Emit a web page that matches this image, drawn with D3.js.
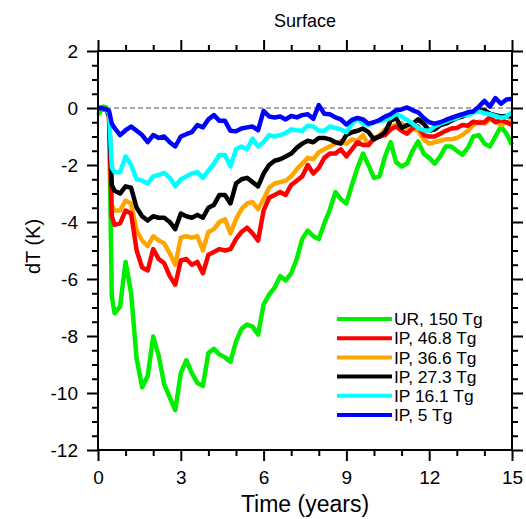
<!DOCTYPE html>
<html>
<head>
<meta charset="utf-8">
<script src="https://cdn.jsdelivr.net/npm/d3@7"></script>
<style>
  body { margin: 0; background: #fff; }
  text { font-family: "Liberation Sans", Arial, sans-serif; fill: #000; }
</style>
</head>
<body>
<div class="visHolder"></div>
<script>
// time axis (years)
var times = [0, 0.1, 0.2, 0.3, 0.4, 0.5, 0.6, 0.8,
  1, 1.2, 1.4, 1.6, 1.8, 2, 2.2, 2.4, 2.6, 2.8, 3, 3.2, 3.4, 3.6, 3.8,
  4, 4.2, 4.4, 4.6, 4.8, 5, 5.2, 5.4, 5.6, 5.8, 6, 6.2, 6.4, 6.6, 6.8,
  7, 7.2, 7.4, 7.6, 7.8, 8, 8.2, 8.4, 8.6, 8.8, 9, 9.2, 9.4, 9.6, 9.8,
  10, 10.2, 10.4, 10.6, 10.8, 11, 11.2, 11.4, 11.6, 11.8, 12, 12.2, 12.4, 12.6, 12.8,
  13, 13.2, 13.4, 13.6, 13.8, 14, 14.2, 14.4, 14.6, 14.8, 15];

// dT (K) per experiment
var ur150 = [-0.25, -0.1, 0.05, 0.02, -0.3, -6.6, -7.2, -6.97,
  -5.4, -6.5, -8.8, -9.8, -9.4,
  -8.02, -8.7, -9.7, -10.15, -10.6,
  -9.3, -8.85, -9.3, -9.65, -9.75,
  -8.6, -8.45, -8.65, -8.75, -8.9,
  -8.2, -7.75, -7.6, -7.67, -7.95,
  -6.9, -6.55, -6.3, -5.9, -6.05,
  -5.8, -5.3, -4.6, -4.3, -4.5,
  -4.6, -4.05, -3.57, -2.95, -3.2,
  -3.35, -2.7, -2.1, -1.6, -2.0,
  -2.45, -2.4, -1.7, -1.2, -1.9,
  -2.05, -1.95, -1.5, -1.17, -1.6,
  -1.75, -1.95, -1.7, -1.35, -1.35,
  -1.5, -1.64, -1.4, -1.0, -0.95,
  -1.25, -1.35, -1.0, -0.65, -0.9,
  -1.29];

var ip468 = [0, 0, -0.05, -0.05, -0.3, -3.8, -4.1, -4.05,
  -3.6, -3.7, -5.0, -5.6, -5.7,
  -4.95, -5.3, -5.45, -5.9, -6.2,
  -5.35, -5.3, -5.5, -5.4, -5.8,
  -5.15, -5.05, -4.95, -5.0, -4.95,
  -4.6, -4.35, -4.2, -4.4, -4.65,
  -3.6, -3.15, -3.05, -2.95, -3.05,
  -2.7, -2.55, -2.4, -2.0, -2.3,
  -2.1, -1.75, -1.6, -1.6, -1.45,
  -1.7, -1.45, -1.2, -1.3, -1.3,
  -1.05, -1.0, -0.95, -0.75, -0.65,
  -0.8, -0.9, -0.7, -0.65, -0.95,
  -1.0, -1.0, -0.9, -0.8, -0.72,
  -0.7, -0.6, -0.62, -0.48, -0.52,
  -0.5, -0.32, -0.5, -0.42, -0.5,
  -0.6];

var ip366 = [0, 0, -0.05, -0.05, -0.3, -3.4, -3.6, -3.6,
  -3.25, -3.35, -4.3, -4.65, -4.85,
  -4.5, -4.65, -4.75, -5.1, -5.5,
  -4.55, -4.5, -4.55, -4.5, -5.0,
  -4.35, -4.25, -4.0, -3.9, -4.4,
  -3.9, -3.55, -3.35, -3.3, -3.55,
  -3.2, -2.8, -2.65, -2.6, -2.55,
  -2.4, -2.15, -1.95, -1.75, -1.8,
  -1.55, -1.45, -1.35, -1.25, -1.17,
  -1.25, -1.1, -1.15, -0.95, -1.3,
  -1.1, -0.95, -0.75, -0.65, -0.6,
  -0.53, -0.7, -0.75, -0.8, -1.1,
  -1.25, -1.2, -1.15, -1.1, -1.1,
  -1.05, -0.95, -0.8, -0.6, -0.48,
  -0.55, -0.4, -0.45, -0.6, -0.5,
  -0.45];

var ip273 = [0, 0, -0.05, -0.05, -0.25, -2.7, -2.9, -3.0,
  -2.75, -2.8, -3.5, -3.8, -3.95,
  -3.8, -3.85, -3.85, -4.0, -4.25,
  -3.7, -3.8, -3.85, -3.75, -3.85,
  -3.5, -3.4, -3.05, -3.05, -3.35,
  -2.65, -2.5, -2.45, -2.6, -2.75,
  -2.3, -2.0, -1.85, -1.8, -1.7,
  -1.6, -1.4, -1.25, -1.15, -1.2,
  -1.05, -1.05, -1.1, -1.2, -1.25,
  -0.95, -0.85, -0.8, -0.72, -0.85,
  -1.1, -1.0, -0.85, -0.45, -0.35,
  -0.7, -0.6, -0.55, -0.4, -0.55,
  -0.8, -0.75, -0.6, -0.55, -0.45,
  -0.35, -0.3, -0.22, -0.12, -0.05,
  -0.08, -0.2, -0.25, -0.3, -0.28,
  -0.3];

var ip161 = [0, 0, -0.05, -0.05, -0.2, -2.1, -2.25, -2.25,
  -1.7, -2.0, -2.5, -2.55, -2.65,
  -2.4, -2.35, -2.28, -2.45, -2.75,
  -2.5, -2.4, -2.3, -2.25, -2.45,
  -2.2, -1.95, -1.65, -1.65, -2.05,
  -1.45, -1.35, -1.45, -1.08, -1.35,
  -1.2, -0.95, -1.0, -0.95, -0.88,
  -0.75, -0.78, -0.8, -0.62, -0.65,
  -0.8, -0.8, -0.65, -0.7, -0.75,
  -0.85, -0.55, -0.38, -0.55, -0.6,
  -0.5, -0.47, -0.42, -0.35, -0.2,
  -0.3, -0.42, -0.55, -0.7, -0.78,
  -0.8, -0.65, -0.55, -0.48, -0.4,
  -0.35, -0.25, -0.25, -0.16, -0.12,
  -0.18, -0.22, -0.28, -0.35, -0.3,
  -0.15];

var ip5 = [0, 0, -0.02, -0.05, -0.1, -0.55, -0.7, -0.95,
  -0.78, -0.65, -0.8, -0.95, -1.2,
  -0.95, -1.05, -1.0, -1.2, -1.35,
  -1.0, -0.92, -0.85, -0.6, -0.68,
  -0.4, -0.25, -0.45, -0.45, -0.8,
  -0.82, -0.72, -0.68, -0.65, -0.78,
  -0.1, -0.3, -0.33, -0.3, -0.4,
  -0.28, -0.33, -0.25, -0.22, -0.38,
  0.1, -0.2, -0.22, -0.33, -0.4,
  -0.58, -0.42, -0.35, -0.4, -0.55,
  -0.5, -0.42, -0.3, -0.22, -0.08,
  -0.05, 0.02, -0.08, -0.15, -0.35,
  -0.5, -0.55, -0.5, -0.42, -0.35,
  -0.28, -0.22, -0.15, -0.12, 0.05,
  0.25, 0.05, 0.35, 0.15, 0.3,
  0.32];

var seriesNames = ["UR, 150 Tg", "IP, 46.8 Tg", "IP, 36.6 Tg", "IP, 27.3 Tg", "IP 16.1 Tg", "IP, 5 Tg"];
var seriesValues = [ur150, ip468, ip366, ip273, ip161, ip5];
var seriesColors = ["#00ee00", "#ff0000", "#ffa500", "#000000", "#00ffff", "#0000ff"];

var xMajor = [0, 3, 6, 9, 12, 15];
var xMinor = [1, 2, 4, 5, 7, 8, 10, 11, 13, 14];
var yMajor = [-12, -10, -8, -6, -4, -2, 0, 2];
var yMinor = [-11.5, -11, -10.5, -9.5, -9, -8.5, -7.5, -7, -6.5, -5.5, -5, -4.5,
  -3.5, -3, -2.5, -1.5, -1, -0.5, 0.5, 1, 1.5];

var margin = { top: 51, right: 14, bottom: 69, left: 98 },
    width = 526 - margin.left - margin.right,
    height = 519 - margin.top - margin.bottom;

var svg = d3.select(".visHolder")
    .append("svg")
    .attr("width", 526)
    .attr("height", 519)
    .append("g")
    .attr("transform", "translate(" + margin.left + "," + margin.top + ")");

var x = d3.scaleLinear().domain([0, 15]).range([0, width]);
var y = d3.scaleLinear().domain([-12, 2]).range([height, 0]);

// zero reference line
svg.append("line")
    .attr("x1", 0).attr("x2", width)
    .attr("y1", y(0)).attr("y2", y(0))
    .style("stroke", "#aaaaaa")
    .style("stroke-width", 2)
    .style("stroke-dasharray", "5,3");

// curves, blue ends up on top
var line = d3.line()
    .x((d) => x(d[0]))
    .y((d) => y(d[1]));

var drawOrder = [0, 2, 1, 3, 4, 5];
drawOrder.forEach(function(i) {
    var pts = times.map((t, k) => [t, seriesValues[i][k]]);
    svg.append("path")
        .datum(pts)
        .attr("d", line)
        .style("fill", "none")
        .style("stroke", seriesColors[i])
        .style("stroke-width", 4.5)
        .style("stroke-linejoin", "round");
});

// axes
function styleAxis(g) {
    g.select(".domain").remove();
    g.selectAll(".tick line").style("stroke", "#000").style("stroke-width", 2);
    g.selectAll("text").style("font-size", "19px").style("font-family", "'Liberation Sans', Arial, sans-serif");
}

svg.append("g")
    .call(d3.axisLeft(y).tickValues(yMajor).tickSize(11).tickPadding(9).tickFormat((d) => String(d)))
    .call(styleAxis);
svg.append("g")
    .call(d3.axisLeft(y).tickValues(yMinor).tickSize(6).tickFormat(""))
    .call(styleAxis);
svg.append("g")
    .attr("transform", "translate(" + width + ",0)")
    .call(d3.axisRight(y).tickValues(yMajor).tickSize(11).tickFormat(""))
    .call(styleAxis);
svg.append("g")
    .attr("transform", "translate(" + width + ",0)")
    .call(d3.axisRight(y).tickValues(yMinor).tickSize(6).tickFormat(""))
    .call(styleAxis);

svg.append("g")
    .attr("transform", "translate(0," + height + ")")
    .call(d3.axisBottom(x).tickValues(xMajor).tickSize(11).tickPadding(10).tickFormat((d) => String(d)))
    .call(styleAxis);
svg.append("g")
    .attr("transform", "translate(0," + height + ")")
    .call(d3.axisBottom(x).tickValues(xMinor).tickSize(6).tickFormat(""))
    .call(styleAxis);
svg.append("g")
    .call(d3.axisTop(x).tickValues(xMajor).tickSize(11).tickFormat(""))
    .call(styleAxis);
svg.append("g")
    .call(d3.axisTop(x).tickValues(xMinor).tickSize(6).tickFormat(""))
    .call(styleAxis);

// frame
svg.append("rect")
    .attr("width", width)
    .attr("height", height)
    .style("fill", "none")
    .style("stroke", "#000")
    .style("stroke-width", 2);

// titles
svg.append("text")
    .attr("x", width / 2)
    .attr("y", -24)
    .attr("text-anchor", "middle")
    .style("font-size", "18px")
    .text("Surface");

svg.append("text")
    .attr("x", width / 2)
    .attr("y", height + 62)
    .attr("text-anchor", "middle")
    .style("font-size", "23px")
    .text("Time (years)");

svg.append("text")
    .attr("transform", "rotate(-90)")
    .attr("x", -(height / 2) + 4)
    .attr("y", -58)
    .attr("text-anchor", "middle")
    .style("font-size", "20px")
    .text("dT (K)");

// legend
var legend = svg.append("g")
    .attr("transform", "translate(" + (337 - margin.left) + "," + (319 - margin.top) + ")");

seriesNames.forEach(function(name, i) {
    legend.append("line")
        .attr("x1", 0).attr("x2", 55)
        .attr("y1", i * 19.2).attr("y2", i * 19.2)
        .style("stroke", seriesColors[i])
        .style("stroke-width", 4);
    legend.append("text")
        .attr("x", 57)
        .attr("y", i * 19.2)
        .attr("dy", "0.36em")
        .style("font-size", "17.4px")
        .text(name);
});
</script>
</body>
</html>
